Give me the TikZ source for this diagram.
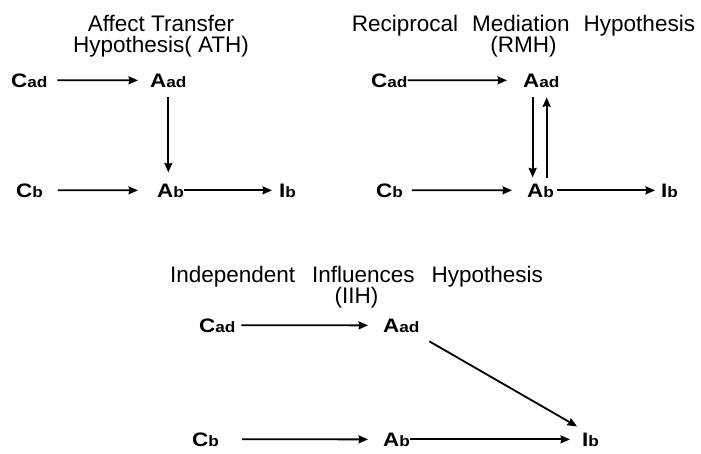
\documentclass[tikz,border=0pt]{standalone}
\usepackage{fontspec}
\setmainfont{Liberation Sans}
\newfontfamily\lblfont[FakeStretch=1.15]{Liberation Sans}
\usetikzlibrary{arrows.meta,calc}
% variable with its index set small on the same baseline
\newcommand\varlab[2]{{\fontsize{19.5}{19.5}\selectfont #1}{\fontsize{15}{15}\selectfont #2}}
% wide word gap used in the longer headings
\newcommand\wgap[1]{\hspace{#1}}
\tikzset{
  lbl/.style={inner sep=0pt, anchor=base west, font=\lblfont\bfseries},
  hyptitle/.style={inner sep=0pt, anchor=base, align=center,
    font=\fontsize{22.5}{21.5}\selectfont},
  arr/.style={-{Stealth[length=9.5pt,width=8pt,inset=1pt]}, line width=1.8pt},
}
\begin{document}
\begin{tikzpicture}[x=1pt,y=-1pt]
\useasboundingbox (0,0) rectangle (701,453);

% Affect Transfer Hypothesis (anchor at the baseline of the second line)
\node[hyptitle] (athT) at (161,52.5) {Affect Transfer\\Hypothesis( ATH)};
\node[lbl] (cad1) at (11,87) {\varlab{C}{ad}};
\node[lbl] (aad1) at (150,87) {\varlab{A}{ad}};
\node[lbl] (cb1) at (16,197) {\varlab{C}{b}};
\node[lbl] (ab1) at (157,197) {\varlab{A}{b}};
\node[lbl] (ib1) at (279,197) {\varlab{I}{b}};
\draw[arr, shorten <=9.6pt, shorten >=12pt] (cad1) -- (aad1);
\draw[arr, shorten <=14.7pt, shorten >=19pt] (cb1) -- (ab1);
\draw[arr, shorten <=0pt, shorten >=7pt] (ab1) -- (ib1);
\draw[arr, shorten <=10pt, shorten >=11pt] (aad1.south) -- (aad1.south |- ab1.north);

% Reciprocal Mediation Hypothesis
\node[hyptitle] (rmhT) at (523.5,52.5)
  {Reciprocal\wgap{14pt}Mediation\wgap{14pt}Hypothesis\\(RMH)};
\node[lbl] (cad2) at (371,87) {\varlab{C}{ad}};
\node[lbl] (aad2) at (523,87) {\varlab{A}{ad}};
\node[lbl] (cb2) at (376,197) {\varlab{C}{b}};
\node[lbl] (ab2) at (527,197) {\varlab{A}{b}};
\node[lbl] (ib2) at (661,197) {\varlab{I}{b}};
\draw[arr, shorten <=0pt, shorten >=16pt] (cad2) -- (aad2);
\draw[arr, shorten <=8.7pt, shorten >=15pt] (cb2) -- (ab2);
\draw[arr, shorten <=2.7pt, shorten >=6pt] (ab2) -- (ib2);
\draw[arr, shorten <=10pt, shorten >=6pt]
  ([xshift=-8.7pt]aad2.south) -- ([xshift=-8.7pt]aad2.south |- ab2.north);
\draw[arr, shorten <=5pt, shorten >=10pt]
  ([xshift=5.3pt]aad2.south |- ab2.north) -- ([xshift=5.3pt]aad2.south);

% Independent Influences Hypothesis
\node[hyptitle] (iihT) at (356.5,303.5)
  {Independent\wgap{17pt}Influences\wgap{17pt}Hypothesis\\(IIH)};
\node[lbl] (cad3) at (199,332) {\varlab{C}{ad}};
\node[lbl] (aad3) at (383,332) {\varlab{A}{ad}};
\node[lbl] (cb3) at (192,446) {\varlab{C}{b}};
\node[lbl] (ab3) at (383,446) {\varlab{A}{b}};
\node[lbl] (ib3) at (582,446) {\varlab{I}{b}};
\draw[arr, shorten <=5.6pt, shorten >=15pt] (cad3) -- (aad3);
\draw[arr, shorten <=22.7pt, shorten >=15pt] (cb3) -- (ab3);
\draw[arr, shorten <=0pt, shorten >=12pt] (ab3) -- (ib3);
\draw[arr] ($(aad3.south east)+(9.6,9)$) -- ($(ib3.north west)+(-5,-6)$);
\end{tikzpicture}
\end{document}
